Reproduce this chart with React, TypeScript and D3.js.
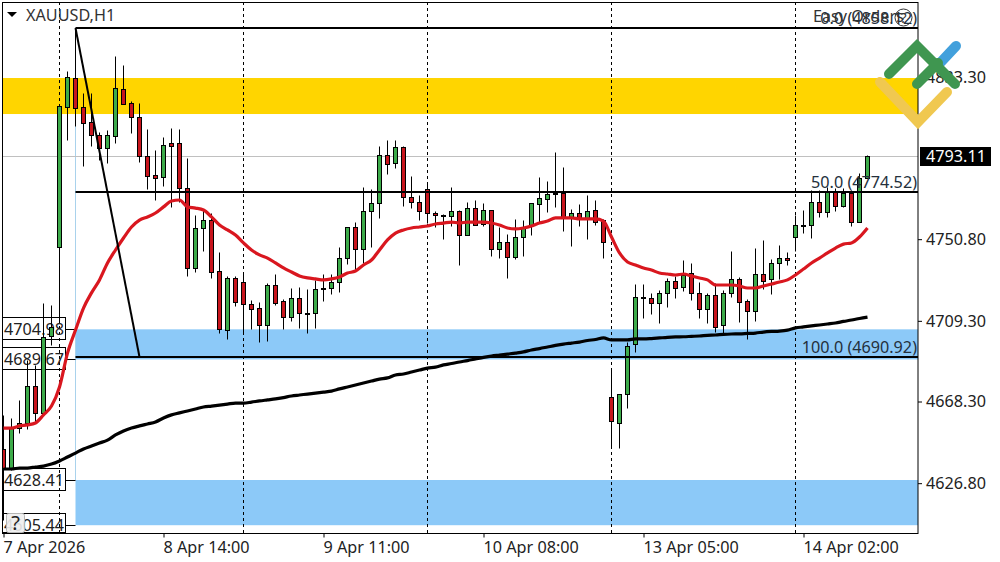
import React from 'react';
import * as d3 from 'd3';

const opens = [4644.2,4634.5,4654.8,4657.4,4676.2,4662.5,4701.6,4746.8,4818.0,4832.7,4818.0,4810.4,4803.7,4797.1,4803.2,4827.1,4820.0,4812.9,4793.1,4783.4,4782.4,4799.7,4799.7,4776.8,4736.2,4756.5,4760.5,4734.6,4704.6,4731.1,4729.0,4717.9,4715.8,4707.2,4727.5,4719.4,4711.3,4720.9,4713.3,4713.3,4726.0,4726.0,4729.0,4741.2,4757.0,4745.8,4765.1,4769.2,4793.6,4789.5,4797.6,4772.2,4769.7,4776.3,4764.1,4763.1,4762.6,4765.1,4752.9,4766.6,4758.5,4765.6,4745.8,4749.4,4741.7,4751.9,4757.5,4768.7,4771.2,4774.3,4774.3,4762.1,4764.1,4761.1,4765.6,4760.5,4670.6,4657.4,4672.1,4697.5,4721.4,4720.9,4718.4,4723.5,4729.5,4726.5,4733.6,4723.5,4715.3,4722.4,4707.2,4723.5,4730.6,4719.4,4714.3,4733.1,4730.6,4738.7,4741.2,4751.9,4758.0,4758.0,4769.7,4764.6,4774.8,4767.7,4774.3,4759.5,4781.9];
const highs = [4661.5,4659.9,4669.1,4689.4,4686.9,4718.4,4717.4,4818.5,4836.3,4858.1,4825.1,4825.1,4805.3,4806.3,4843.9,4839.3,4821.0,4820.0,4806.8,4796.1,4802.7,4807.3,4806.8,4792.1,4763.1,4765.6,4764.1,4744.3,4732.1,4732.1,4733.6,4719.9,4718.9,4728.5,4733.1,4720.4,4726.0,4726.5,4725.5,4730.1,4733.1,4733.1,4746.8,4757.0,4759.5,4777.3,4776.3,4798.2,4801.2,4801.2,4798.2,4782.9,4773.3,4779.9,4765.1,4763.6,4777.3,4765.6,4769.7,4770.7,4769.2,4765.6,4757.0,4753.4,4761.1,4760.5,4769.2,4782.4,4780.4,4795.1,4787.5,4766.1,4768.7,4773.3,4770.7,4761.1,4685.3,4672.1,4698.5,4728.0,4728.0,4723.5,4725.0,4731.1,4732.1,4740.2,4738.7,4729.0,4723.5,4728.5,4725.0,4744.8,4731.6,4720.4,4746.3,4750.4,4740.7,4747.8,4744.3,4763.1,4765.6,4775.8,4775.8,4777.3,4776.8,4776.8,4775.8,4784.4,4793.6];
const lows = [4608.1,4633.5,4652.3,4654.3,4657.9,4662.5,4697.0,4708.7,4801.2,4808.3,4788.0,4798.2,4791.0,4789.5,4799.7,4819.5,4804.8,4790.0,4776.3,4770.7,4777.8,4767.2,4769.7,4732.1,4734.1,4744.8,4731.1,4703.1,4700.1,4716.8,4702.6,4705.2,4698.5,4699.1,4717.4,4705.2,4709.2,4705.7,4703.1,4705.7,4719.4,4722.9,4724.0,4738.2,4735.1,4738.7,4746.8,4761.6,4783.9,4787.0,4767.7,4766.6,4760.5,4759.0,4757.0,4750.9,4757.5,4737.7,4752.9,4758.0,4757.5,4742.2,4741.2,4731.1,4740.7,4742.2,4752.9,4759.5,4764.6,4767.2,4755.0,4747.3,4757.5,4750.9,4758.0,4741.2,4644.7,4644.7,4665.0,4693.5,4710.7,4712.8,4708.2,4716.3,4720.9,4724.5,4719.9,4710.7,4708.2,4703.6,4703.1,4721.4,4708.7,4700.1,4709.2,4725.5,4722.9,4730.6,4737.7,4744.8,4754.0,4751.4,4762.1,4762.1,4765.1,4767.2,4757.5,4759.5,4781.9];
const closes = [4634.5,4654.8,4657.4,4676.2,4662.5,4701.1,4706.2,4818.5,4833.2,4817.5,4809.9,4803.7,4797.1,4803.7,4827.6,4819.5,4812.9,4793.1,4782.9,4781.9,4798.7,4798.2,4776.8,4736.2,4756.5,4760.5,4734.1,4705.2,4731.1,4718.9,4717.9,4715.3,4707.2,4727.5,4718.4,4711.3,4720.9,4713.3,4712.8,4725.5,4725.5,4729.0,4741.2,4757.0,4745.8,4765.1,4769.2,4793.6,4789.0,4797.6,4772.2,4769.7,4765.1,4764.1,4763.1,4762.6,4765.1,4752.9,4766.6,4758.0,4765.6,4745.8,4749.4,4741.7,4751.9,4757.0,4769.2,4771.7,4773.8,4773.8,4762.1,4764.1,4761.1,4765.1,4759.5,4749.4,4658.4,4672.1,4696.5,4721.4,4720.9,4718.4,4723.5,4729.5,4726.0,4732.6,4723.5,4715.3,4722.4,4706.2,4723.5,4730.6,4718.9,4714.3,4733.1,4729.5,4738.7,4741.2,4740.2,4758.0,4757.5,4769.7,4764.6,4774.8,4767.7,4774.3,4759.5,4781.9,4793.1];

const fastMa = [4654.8,4654.8,4655.9,4656.4,4657.4,4661.5,4666.0,4675.7,4692.9,4704.6,4715.8,4723.5,4730.1,4738.7,4745.3,4751.4,4757.0,4760.5,4762.1,4764.1,4767.2,4770.2,4770.7,4767.2,4766.6,4765.6,4762.1,4758.0,4755.5,4752.9,4748.9,4745.3,4742.8,4741.2,4738.7,4736.2,4734.1,4732.1,4731.1,4730.6,4730.1,4730.6,4731.6,4733.6,4734.6,4737.7,4740.2,4745.3,4750.4,4753.9,4755.5,4756.5,4757.0,4757.5,4758.5,4759.0,4759.5,4759.0,4759.5,4759.5,4759.5,4759.0,4758.0,4756.5,4756.0,4756.5,4757.5,4759.0,4760.0,4761.6,4761.6,4761.6,4761.1,4761.1,4761.1,4760.0,4751.9,4743.8,4739.2,4737.7,4736.2,4735.1,4733.6,4733.1,4732.6,4733.1,4732.1,4731.1,4730.1,4727.5,4727.5,4727.5,4727.0,4726.0,4726.0,4727.0,4728.0,4729.0,4730.1,4732.6,4735.6,4738.7,4741.2,4743.8,4746.3,4748.3,4748.9,4751.9,4756.5];
const slowMa = [4634.0,4634.0,4634.5,4634.5,4635.0,4635.5,4636.5,4638.1,4640.1,4642.1,4644.2,4645.7,4647.2,4648.7,4651.3,4653.3,4654.8,4655.9,4656.9,4657.9,4659.9,4661.5,4662.5,4663.5,4664.5,4665.5,4666.0,4666.5,4667.0,4667.5,4667.5,4668.0,4668.6,4669.1,4669.6,4670.3,4671.1,4671.6,4672.1,4672.6,4673.1,4673.6,4674.7,4675.7,4676.7,4677.7,4678.7,4679.7,4680.3,4681.8,4682.3,4683.3,4684.3,4685.3,4685.8,4686.9,4687.6,4688.4,4689.1,4689.9,4690.7,4691.4,4691.9,4692.4,4692.9,4693.5,4694.5,4695.2,4696.0,4696.8,4697.5,4698.0,4698.5,4699.3,4699.8,4700.6,4699.6,4699.6,4699.6,4700.1,4700.1,4700.3,4700.6,4700.9,4701.1,4701.2,4701.4,4701.6,4701.9,4702.1,4702.4,4702.6,4702.7,4702.9,4703.1,4703.6,4703.9,4704.1,4704.6,4705.7,4706.2,4706.7,4707.2,4707.7,4708.2,4709.0,4709.7,4710.5,4711.2];

const priceTicks = [4833.3, 4750.8, 4709.3, 4668.3, 4626.8];
const timeTickIdx = [0, 20, 40, 60, 80, 100];
const timeTickLabels = ['7 Apr 2026', '8 Apr 14:00', '9 Apr 11:00', '10 Apr 08:00', '13 Apr 05:00', '14 Apr 02:00'];
const sessionIdx = [7, 30, 53, 76, 99];
const lastPrice = 4793.11;
const fibLevels = [
  { name: '0.0', price: 4858.12 },
  { name: '50.0', price: 4774.52 },
  { name: '100.0', price: 4690.92 },
];
const fibStartIdx = 9;
const fibEndIdx = 17;
const goldZone = [4832.7, 4814.4];
const blueZones = [[4704.98, 4689.67], [4628.41, 4605.44]];
const leftLabels = [4704.98, 4689.67, 4628.41, 4605.44];

const FONT = '"Noto Sans", sans-serif';
const FONT_SIZE = 16.2;

export default function App() {
  const ref = React.useRef<SVGSVGElement>(null);

  React.useEffect(() => {
    document.body.style.margin = '0';
    const svg = d3.select(ref.current);
    svg.selectAll('*').remove();

    const left = 3, right = 918, top = 2, bottom = 533;
    const x = d3.scaleLinear().domain([0, 108]).range([3.5, 867.5]);
    const y = d3.scaleLinear().domain([4601.48, 4871.33]).range([bottom, top]);
    const py = (p: number) => Math.round(y(p)) + 0.5;

    svg.append('defs').append('clipPath').attr('id', 'plot')
      .append('rect').attr('x', left).attr('y', top).attr('width', right - left).attr('height', bottom - top);

    const plot = svg.append('g').attr('clip-path', 'url(#plot)');

    // Zones
    plot.append('rect').attr('x', left).attr('width', right - left)
      .attr('y', y(goldZone[0])).attr('height', y(goldZone[1]) - y(goldZone[0])).attr('fill', '#ffd500');
    blueZones.forEach(z => {
      plot.append('rect').attr('x', x(fibStartIdx)).attr('width', right - x(fibStartIdx))
        .attr('y', y(z[0])).attr('height', y(z[1]) - y(z[0])).attr('fill', '#8cc9f8');
    });
    plot.append('line').attr('x1', x(fibStartIdx)).attr('x2', x(fibStartIdx))
      .attr('y1', y(goldZone[1])).attr('y2', y(blueZones[1][0])).attr('stroke', '#a9d2ec');

    // Session separators and last price line
    plot.selectAll('.sep').data(sessionIdx).enter().append('line')
      .attr('x1', d => x(d)).attr('x2', d => x(d)).attr('y1', top).attr('y2', bottom)
      .attr('stroke', '#000').attr('stroke-dasharray', '3 3');
    plot.append('line').attr('x1', left).attr('x2', right).attr('y1', py(lastPrice)).attr('y2', py(lastPrice))
      .attr('stroke', '#c0c0c0');

    // Left price labels, candles draw over them
    leftLabels.forEach(p => {
      const h = p === 4605.44 ? 19 : 22;
      plot.append('rect').attr('x', 1.5).attr('y', Math.round(y(p)) - 11.5).attr('width', 64).attr('height', h)
        .attr('fill', 'none').attr('stroke', '#000');
      plot.append('line').attr('x1', 65).attr('x2', x(fibStartIdx)).attr('y1', py(p)).attr('y2', py(p)).attr('stroke', '#000');
      plot.append('text').attr('x', 64).attr('y', y(p) + 5.5).attr('text-anchor', 'end')
        .attr('font-family', FONT).attr('font-size', FONT_SIZE).attr('fill', '#222').text(d3.format('.2f')(p));
    });

    // Candles
    const candles = d3.range(opens.length);
    plot.selectAll('.wick').data(candles).enter().append('line')
      .attr('x1', i => x(i)).attr('x2', i => x(i)).attr('y1', i => py(highs[i])).attr('y2', i => py(lows[i]))
      .attr('stroke', '#000');
    plot.selectAll('.body').data(candles).enter().append('rect')
      .attr('x', i => x(i) - 2)
      .attr('width', 4)
      .attr('y', i => py(Math.max(opens[i], closes[i])))
      .attr('height', i => Math.max(1, py(Math.min(opens[i], closes[i])) - py(Math.max(opens[i], closes[i]))))
      .attr('fill', i => closes[i] >= opens[i] ? '#3dab4a' : '#c8151d')
      .attr('stroke', '#000');

    // Moving averages
    const line = d3.line<number>().x((_, i) => x(i)).y(d => y(d)).curve(d3.curveMonotoneX);
    plot.append('path').attr('d', line(slowMa)).attr('fill', 'none').attr('stroke', '#000').attr('stroke-width', 3.2);
    plot.append('path').attr('d', line(fastMa)).attr('fill', 'none').attr('stroke', '#d9171f').attr('stroke-width', 3.2);

    // Fibonacci lines and trend line
    fibLevels.forEach(f => {
      const ly = Math.round(y(f.price));
      plot.append('line').attr('x1', x(fibStartIdx)).attr('x2', right).attr('y1', ly).attr('y2', ly)
        .attr('stroke', '#000').attr('stroke-width', 2);
      plot.append('text').attr('x', 917).attr('y', ly - 4).attr('text-anchor', 'end')
        .attr('font-family', FONT).attr('font-size', FONT_SIZE).attr('fill', '#24303c')
        .text(`${f.name} (${f.price.toFixed(2)})`);
    });
    plot.append('line').attr('x1', x(fibStartIdx)).attr('y1', y(fibLevels[0].price))
      .attr('x2', x(fibEndIdx)).attr('y2', y(fibLevels[2].price)).attr('stroke', '#000').attr('stroke-width', 2);

    // Top labels
    plot.append('text').attr('x', 813).attr('y', 22)
      .attr('font-family', FONT).attr('font-size', FONT_SIZE).attr('fill', '#333').text('Easy Orders');
    plot.append('circle').attr('cx', 903.5).attr('cy', 17.5).attr('r', 8.5)
      .attr('fill', 'none').attr('stroke', '#333');
    plot.append('text').attr('x', 903.5).attr('y', 23).attr('text-anchor', 'middle')
      .attr('font-family', FONT).attr('font-size', 14).attr('fill', '#333').text('?');
    plot.append('path').attr('d', 'M7,12 L17,12 L12,17 Z').attr('fill', '#000');
    plot.append('text').attr('x', 26).attr('y', 21)
      .attr('font-family', FONT).attr('font-size', FONT_SIZE).attr('fill', '#333').text('XAUUSD,H1');

    // Help button
    const help = svg.append('g');
    help.append('rect').attr('x', 6.5).attr('y', 513.5).attr('width', 18).attr('height', 19).attr('rx', 2)
      .attr('fill', '#eeeeee').attr('fill-opacity', 0.9).attr('stroke', '#b5b5b5');
    help.append('text').attr('x', 15.5).attr('y', 530).attr('text-anchor', 'middle')
      .attr('font-family', FONT).attr('font-size', 20).attr('fill', '#222').text('?');

    // Axes and frame
    svg.append('rect').attr('x', left - 0.5).attr('y', top + 0.5).attr('width', right - left + 0.5).attr('height', bottom - top)
      .attr('fill', 'none').attr('stroke', '#000');

    const yAxis = svg.append('g').attr('transform', `translate(${right},0)`)
      .call(d3.axisRight(y).tickValues(priceTicks).tickFormat(d3.format('.2f') as any).tickSize(4).tickPadding(4));
    const xAxis = svg.append('g').attr('transform', `translate(0,${bottom + 0.5})`)
      .call(d3.axisBottom(x).tickValues(timeTickIdx).tickFormat((_, i) => timeTickLabels[i]).tickSize(4).tickPadding(5));
    xAxis.selectAll('text').attr('text-anchor', 'start').attr('dy', 0).attr('y', 19.5).attr('x', -0.5);
    [yAxis, xAxis].forEach(a => {
      a.select('.domain').remove();
      a.selectAll('text').attr('font-family', FONT).attr('font-size', FONT_SIZE).attr('fill', '#222');
    });

    // Current price tag
    svg.append('rect').attr('x', 920).attr('y', 147).attr('width', 71).attr('height', 19).attr('fill', '#000');
    svg.append('text').attr('x', 926).attr('y', y(lastPrice) + 6)
      .attr('font-family', FONT).attr('font-size', FONT_SIZE).attr('fill', '#fff').text(lastPrice.toFixed(2));

    // Logo
    const logo = svg.append('g').attr('fill', 'none').attr('stroke-width', 10).attr('stroke-linecap', 'round').attr('stroke-linejoin', 'miter');
    logo.append('path').attr('d', 'M880,82 L918,122 L947,92').attr('stroke', '#f0c850');
    logo.append('path').attr('d', 'M941,62 L956,46').attr('stroke', '#42a0dc');
    logo.append('path').attr('d', 'M889,74 L917,46 L955,84').attr('stroke', '#3f9650');
    logo.append('path').attr('d', 'M917,84 L938,63').attr('stroke', '#3f9650');
  }, []);

  return <svg ref={ref} width={1000} height={562} style={{ display: 'block', background: '#fff' }} />;
}
